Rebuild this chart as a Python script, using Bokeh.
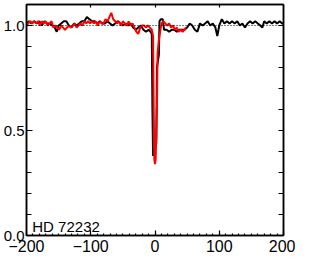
from bokeh.plotting import figure
from bokeh.models import LinearAxis, FixedTicker, Range1d, Span, CustomLabelingPolicy
from bokeh.embed import file_html
from bokeh.resources import INLINE
from bokeh.core.properties import value

# ---- data (velocity km/s, normalised flux) ----
black_v = [-200, -196, -192, -188, -184, -180, -176, -172, -168, -164, -160, -156, -153,
           -150, -146, -142, -138, -134, -130, -126, -122, -118, -114, -110, -106, -102,
           -98, -94, -90, -86, -82, -78, -74, -70, -66, -62, -58, -54, -50, -46, -42,
           -38, -34, -30, -26, -22, -18, -14, -10, -7, -5, -4, -3, -1, 1, 2, 3, 5, 6,
           7, 9, 12, 14, 18, 22, 26, 30, 34, 38, 42, 46, 50, 54, 58, 62, 66, 70, 74,
           78, 82, 86, 90, 94, 97, 100, 104, 108, 112, 116, 120, 124, 128, 132, 136,
           140, 144, 148, 152, 156, 160, 164, 167, 170, 174, 178, 182, 186, 190, 194,
           198, 200]
black_f = [1.01, 1.02, 1.01, 1.02, 1.01, 1.02, 1.00, 1.02, 1.01, 1.01, 1.00, 0.99, 0.97,
           1.00, 1.01, 1.02, 1.02, 1.00, 0.99, 1.01, 1.00, 1.01, 1.02, 1.02, 1.04, 1.03,
           1.02, 1.02, 1.01, 1.02, 1.01, 1.01, 1.02, 1.01, 1.00, 1.01, 1.02, 1.01, 1.00,
           1.01, 1.00, 1.01, 0.99, 0.98, 0.99, 1.00, 0.98, 0.97, 0.98, 0.97, 0.96, 0.60,
           0.38, 0.39, 0.42, 0.44, 0.80, 0.84, 0.86, 1.02, 1.03, 1.03, 0.98, 0.98, 0.97,
           0.98, 0.98, 0.97, 0.98, 0.98, 0.98, 0.99, 1.01, 1.00, 0.98, 0.97, 1.01, 1.00,
           1.01, 1.02, 1.00, 1.01, 0.99, 0.95, 1.00, 1.03, 1.01, 1.02, 1.01, 1.02, 1.01,
           1.02, 1.00, 1.01, 0.99, 1.01, 1.02, 1.01, 1.02, 1.01, 1.00, 0.99, 1.02, 1.01,
           1.02, 1.01, 1.02, 1.01, 1.02, 1.01, 1.01]

red_v = [-200, -197, -194, -191, -188, -185, -182, -179, -176, -173, -170, -167, -164,
         -161, -158, -155, -152, -149, -146, -143, -140, -137, -134, -131, -128, -125,
         -122, -119, -116, -113, -110, -107, -104, -101, -98, -95, -92, -89, -86, -83,
         -80, -77, -74, -71, -68, -65, -62, -59, -56, -53, -50, -47, -44, -41, -38,
         -35, -32, -29, -26, -23, -20, -17, -14, -11, -8, -5, -3, -2, -1, 0, 1, 3, 4,
         6, 8, 10, 13, 16, 19, 22, 25, 28, 31, 34, 37, 40, 43, 46, 48]
red_f = [1.00, 1.01, 1.02, 1.01, 1.02, 1.01, 1.02, 1.00, 1.02, 1.01, 1.02, 1.00, 1.01,
         1.02, 0.99, 1.00, 0.99, 0.98, 1.00, 0.99, 0.98, 0.99, 1.00, 0.99, 1.00, 1.01,
         0.99, 1.00, 1.01, 1.00, 1.02, 1.01, 1.02, 1.01, 1.02, 1.01, 1.02, 1.00, 1.02,
         1.01, 1.01, 1.03, 1.02, 1.04, 1.06, 1.03, 1.02, 1.01, 1.02, 1.00, 1.02, 1.01,
         1.00, 1.02, 1.00, 1.01, 0.99, 0.97, 0.96, 0.99, 1.00, 1.00, 0.99, 1.00, 0.99,
         0.98, 0.95, 0.60, 0.36, 0.34, 0.36, 0.60, 0.87, 0.93, 0.97, 1.01, 1.02, 1.01,
         1.00, 1.01, 0.99, 1.00, 0.98, 0.99, 0.97, 0.98, 0.97, 0.98, 0.99]

x_major = [-200, -100, 0, 100, 200]
y_major = [0.0, 0.5, 1.0]
star_name = "HD 72232"

FONT = "Liberation Sans"

p = figure(width=295, height=257, output_backend="svg", toolbar_location=None,
           x_range=Range1d(-200, 200), y_range=Range1d(0, 1.1),
           min_border_left=20, min_border_right=12, min_border_top=0,
           min_border_bottom=22, x_axis_location=None, y_axis_location=None)
p.grid.visible = False
p.outline_line_color = "black"
p.outline_line_width = 1.5
p.background_fill_color = "white"
p.border_fill_color = "white"

no_labels = CustomLabelingPolicy(code="for (const i of indices) indices.unset(i); return indices")

def style(ax, labels=True, tin=5, minin=3, size="15px"):
    ax.axis_line_color = "black"
    ax.axis_line_width = 1.5
    ax.major_tick_out = 0
    ax.major_tick_in = tin
    ax.minor_tick_out = 0
    ax.minor_tick_in = minin
    ax.major_tick_line_width = 1.2
    ax.minor_tick_line_width = 1.2
    ax.major_tick_line_color = "black"
    ax.minor_tick_line_color = "black"
    if labels:
        ax.major_label_text_font = FONT
        ax.major_label_text_font_size = size
        ax.major_label_text_color = "black"
    else:
        ax.major_label_policy = no_labels
        ax.major_label_text_font_size = "1px"
        ax.major_label_standoff = 0

bx = LinearAxis(ticker=FixedTicker(ticks=x_major,
                                   minor_ticks=list(range(-200, 201, 10))))
style(bx, True, 5, 2, "16px")
bx.major_label_standoff = 4
bx.major_label_overrides = {v: str(v).replace("-", "\u2212") for v in x_major}
p.add_layout(bx, "below")

ly = LinearAxis(ticker=FixedTicker(ticks=y_major,
                                   minor_ticks=[i / 10 for i in range(0, 12)]))
style(ly, True, 6, 5, "15px")
ly.major_label_standoff = 2
ly.major_label_overrides = {v: f"{v:.1f}" for v in y_major}
p.add_layout(ly, "left")

tx = LinearAxis(ticker=FixedTicker(ticks=[-100, 0, 100], minor_ticks=[]))
style(tx, False, 3, 0)
p.add_layout(tx, "above")

ry = LinearAxis(ticker=FixedTicker(ticks=[i / 10 for i in range(0, 12)], minor_ticks=[]))
style(ry, False, 5, 0)
p.add_layout(ry, "right")

p.add_layout(Span(location=1.0, dimension="width", line_color="black",
                  line_dash="1 2", line_width=1))

p.line(black_v, black_f, line_color="black", line_width=2)
p.line(red_v, red_f, line_color="red", line_width=2)

p.text(x=[-191], y=[0.045], text=[star_name], text_font=value(FONT),
       text_font_size="15px", text_color="black", text_baseline="alphabetic",
       text_align="left")

open("out.html", "w").write(file_html(p, INLINE))
